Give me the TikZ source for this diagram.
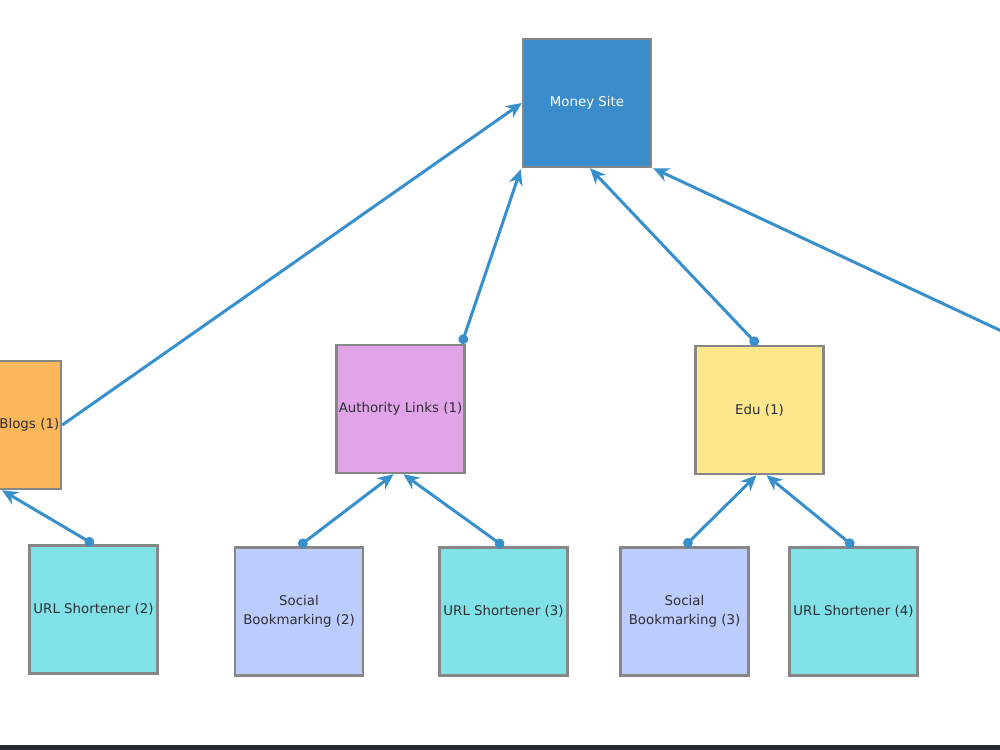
\documentclass[tikz,border=0pt]{standalone}
\usepackage{fontspec}
\setmainfont{DejaVu Sans}
\usetikzlibrary{arrows.meta}

\definecolor{moneyblue}{RGB}{58,141,202}
\definecolor{linkblue}{RGB}{55,143,204}
\definecolor{boxgray}{RGB}{135,135,135}
\definecolor{textgray}{RGB}{45,45,55}
\definecolor{blogorange}{RGB}{253,182,90}
\definecolor{authviolet}{RGB}{226,164,232}
\definecolor{eduyellow}{RGB}{253,231,140}
\definecolor{urlcyan}{RGB}{128,226,230}
\definecolor{bookblue}{RGB}{188,205,253}
\definecolor{stripdark}{RGB}{38,42,53}

\begin{document}
\begin{tikzpicture}[x=0.02cm, y=-0.02cm,
    tierbox/.style={draw=boxgray, line width=1.4pt, minimum width=2.56cm, minimum height=2.56cm,
        inner sep=0.5pt, text=textgray, font=\fontsize{7.6}{10.8}\selectfont, align=center},
    uplink/.style={draw=linkblue, line width=1.7pt, -{Stealth[length=9pt, width=8pt]}},
    duplink/.style={uplink, {Circle[length=5.5pt]}-{Stealth[length=9pt, width=8pt]}}]
    % Frame of the screenshot
    \useasboundingbox (0,0) rectangle (1000,750);
    \clip (0,0) rectangle (1000,750);
    \fill[white] (0,0) rectangle (1000,750);
    \fill[stripdark] (0,745) rectangle (1000,750);

    % Money site at the top
    \node[tierbox, fill=moneyblue, text=white] (money) at (587,103) {Money Site};

    % First tier
    \node[tierbox, fill=blogorange, text width=2.56cm-2pt, align=right, inner sep=1pt] (blogs) at (-3,425) {Blogs (1)};
    \node[tierbox, fill=authviolet] (auth) at (400.5,409) {Authority Links (1)};
    \node[tierbox, fill=eduyellow] (edu) at (759.5,410) {Edu (1)};
    \coordinate (offright) at (1040,349);

    % Second tier
    \node[tierbox, fill=urlcyan] (url2) at (93.5,609.5) {URL Shortener (2)};
    \node[tierbox, fill=bookblue] (book2) at (299,611.5) {Social\\Bookmarking (2)};
    \node[tierbox, fill=urlcyan] (url3) at (503.5,611.5) {URL Shortener (3)};
    \node[tierbox, fill=bookblue] (book3) at (684.5,611.5) {Social\\Bookmarking (3)};
    \node[tierbox, fill=urlcyan] (url4) at (853.5,611.5) {URL Shortener (4)};

    % Links up to the money site
    \draw[uplink] (blogs.east) -- (money.west);
    \draw[duplink] ([shift={(-4,0)}]auth.north east) -- ([shift={(-1,1)}]money.south west);
    \draw[duplink] ([shift={(-2,0)}]edu.north) -- ([shift={(3,0)}]money.south);
    \draw[uplink] (offright) -- ([shift={(1,0)}]money.south east);

    % Links up to the first tier
    \draw[duplink] (url2.north) -- ([shift={(5,0)}]blogs.south);
    \draw[duplink] (book2.north) -- ([shift={(-7,0)}]auth.south);
    \draw[duplink] (url3.north) -- ([shift={(3,0)}]auth.south);
    \draw[duplink] (book3.north) -- ([shift={(-3,0)}]edu.south);
    \draw[duplink] (url4.north) -- ([shift={(7,0)}]edu.south);
\end{tikzpicture}
\end{document}
